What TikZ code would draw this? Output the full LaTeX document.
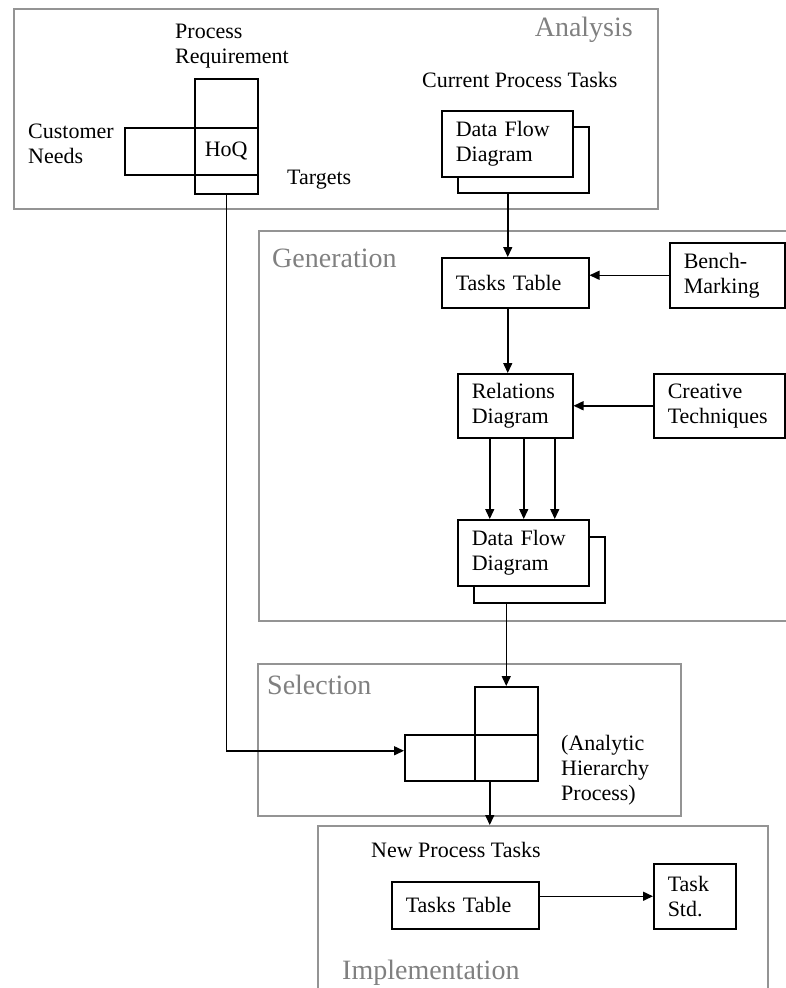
\documentclass[tikz,border=0pt]{standalone}
\usepackage{fontspec}
\setmainfont{Liberation Serif}
\usetikzlibrary{arrows.meta}

\begin{document}
\begin{tikzpicture}[x=1pt, y=-1pt,
        every node/.style={font=\fontsize{22}{25}\selectfont},
        stage/.style={draw=black!42, line width=1.5pt, anchor=north west, inner sep=0pt},
        stagename/.style={text=black!50, font=\fontsize{28}{32}\selectfont, inner sep=0pt},
        txt/.style={anchor=west, align=left, inner sep=0pt},
        box/.style={draw, line width=1.5pt, fill=white, anchor=north west, align=left, inner xsep=14pt, inner ysep=0pt},
        cell/.style={draw, line width=1.5pt, anchor=north west, inner sep=0pt},
        arr/.style={line width=1.5pt, -{Triangle[length=10pt,width=9pt]}}]
        \useasboundingbox (0,0) rectangle (785,988);
        % analysis
        \node[stage, minimum width=644pt, minimum height=200pt] (ana) at (13,8) {};
        \node[stagename, anchor=east] (anaT) at (633,30) {Analysis};
        \node[cell, minimum width=63pt, minimum height=49pt] (hqT) at (194,78) {};
        \node[cell, minimum width=63pt, minimum height=47pt] (hqM) at (194,127) {HoQ};
        \node[cell, minimum width=63pt, minimum height=19pt] (hqB) at (194,174) {};
        \node[cell, minimum width=70pt, minimum height=47pt] (hqL) at (124,127) {};
        \node[txt] (procreq) at (175,46) {Process\\Requirement};
        \node[txt] (custneeds) at (28,144) {Customer\\Needs};
        \node[txt] (targets) at (287,180) {Targets};
        \node[txt] (curtasks) at (422,80) {Current Process Tasks};
        \node[box, text width=103pt, minimum height=66pt] (dfdAb) at (457,126) {};
        \node[box, text width=103pt, minimum height=66pt] (dfdA) at (441,110) {Data Flow\\Diagram};
        % generation
        \node[stage, minimum width=540pt, minimum height=390pt] (gen) at (258,230) {};
        \node[stagename, anchor=west] (genT) at (272,258) {Generation};
        \node[box, text width=119pt, minimum height=50pt] (ttA) at (441,257) {Tasks Table};
        \node[box, text width=87pt, minimum height=65pt] (bench) at (669,242) {Bench-\\Marking};
        \node[box, text width=87pt, minimum height=64pt] (rel) at (457,373) {Relations\\Diagram};
        \node[box, text width=103pt, minimum height=64pt] (creat) at (653,373) {Creative\\Techniques};
        \node[box, text width=103pt, minimum height=66pt] (dfdGb) at (473,536) {};
        \node[box, text width=103pt, minimum height=66pt] (dfdG) at (457,519) {Data Flow\\Diagram};
        % selection
        \node[stage, minimum width=423pt, minimum height=152pt] (sel) at (257,663) {};
        \node[stagename, anchor=west] (selT) at (267,685) {Selection};
        \node[cell, minimum width=63pt, minimum height=48pt] (ahpT) at (474,686) {};
        \node[cell, minimum width=63pt, minimum height=46pt] (ahpR) at (474,734) {};
        \node[cell, minimum width=70pt, minimum height=46pt] (ahpL) at (404,734) {};
        \node[txt] (ahpN) at (561,770) {(Analytic\\Hierarchy\\Process)};
        % implementation
        \node[stage, minimum width=450pt, minimum height=180pt] (impl) at (317,825) {};
        \node[txt] (newtasks) at (371,850) {New Process Tasks};
        \node[box, text width=119pt, minimum height=47pt] (ttB) at (391,881) {Tasks Table};
        \node[box, text width=54pt, minimum height=65pt] (tstd) at (653,863) {Task\\Std.};
        \node[stagename, anchor=west] (implT) at (342,973) {Implementation};
        % flows
        \draw[arr] ([xshift=-7.5pt]dfdAb.south -| ttA.north) -- ([xshift=-7.5pt]ttA.north);
        \draw[arr] ([xshift=-7.5pt]ttA.south) -- ([xshift=-7.5pt]rel.north);
        \draw[arr] (bench.west) -- (bench.west -| ttA.east);
        \draw[arr] (creat.west) -- (creat.west -| rel.east);
        \foreach \dx in {-25.5, 8.5, 39.5}
            \draw[arr] ([xshift=\dx pt]rel.south) -- ([xshift=\dx pt]rel.south |- dfdG.north);
        \draw[arr] (dfdGb.south -| ahpT.north) -- (ahpT.north);
        \draw[arr] (hqB.south) |- ([yshift=7pt]ahpL.west);
        \draw[arr] ([xshift=-16.5pt]ahpR.south) -- ([xshift=-16.5pt]ahpR.south |- impl.north);
        \draw[arr] (ttB.east |- tstd.west) -- (tstd.west);
    \end{tikzpicture}
\end{document}
